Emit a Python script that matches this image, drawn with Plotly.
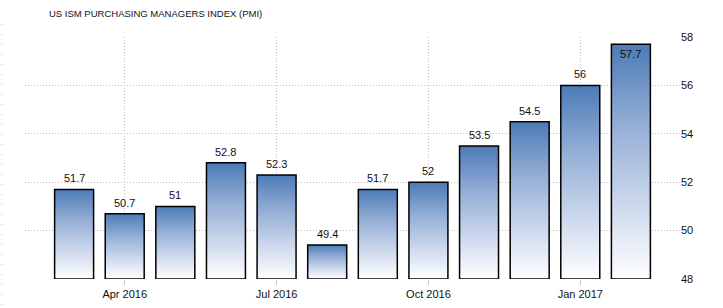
import plotly.graph_objects as go

months = ["Mar 2016", "Apr 2016", "May 2016", "Jun 2016", "Jul 2016", "Aug 2016",
          "Sep 2016", "Oct 2016", "Nov 2016", "Dec 2016", "Jan 2017", "Feb 2017"]
pmi = [51.7, 50.7, 51, 52.8, 52.3, 49.4, 51.7, 52, 53.5, 54.5, 56, 57.7]
tick_labels = ["Apr 2016", "Jul 2016", "Oct 2016", "Jan 2017"]
title = "US ISM PURCHASING MANAGERS INDEX (PMI)"

Y_MIN, Y_MAX = 48, 58
HALF = 0.385
FONT = "Liberation Sans"
GRID = "#c4bcc8"
grad = [[0, "#ffffff"], [0.3, "#cfdaee"], [0.65, "#95afd6"], [1, "#4c7bb6"]]

fig = go.Figure()
idx = {m: i for i, m in enumerate(months)}
for i, v in enumerate(pmi):
    xs = [i - HALF, i + HALF, i + HALF, i - HALF, i - HALF]
    ys = [Y_MIN, Y_MIN, v, v, Y_MIN]
    fig.add_trace(go.Scatter(
        x=xs, y=ys, mode="lines", fill="toself",
        fillgradient=dict(type="vertical", colorscale=grad),
        line=dict(color="#000000", width=1.5),
        hoverinfo="skip", showlegend=False, cliponaxis=False))
    inside = v > Y_MAX - 0.6
    fig.add_annotation(
        x=i, y=v, text=str(v), showarrow=False,
        yanchor="top" if inside else "bottom",
        yshift=-2 if inside else 3,
        font=dict(family=FONT, size=11, color="#111111"))

fig.add_annotation(
    x=(47 - 25) / 655, y=(279 - 13) / 242, xref="paper", yref="paper",
    text=title, showarrow=False, xanchor="left", yanchor="middle",
    font=dict(family=FONT, size=9.5, color="#111122"))

# faint dotted left border
fig.add_shape(type="line", xref="paper", yref="paper",
              x0=(2 - 25) / 655, x1=(2 - 25) / 655,
              y0=(279 - 305) / 242, y1=(279 - 24) / 242,
              line=dict(color=GRID, width=1, dash="1px,9px"))

fig.update_layout(
    width=723, height=308,
    margin=dict(l=25, r=43, t=37, b=29, autoexpand=False),
    paper_bgcolor="white", plot_bgcolor="white",
    font=dict(family=FONT, size=11, color="#111111"),
    xaxis=dict(
        range=[-0.97, 11.97], automargin=False,
        tickmode="array",
        tickvals=[idx[t] for t in tick_labels],
        ticktext=tick_labels,
        showgrid=True, gridcolor=GRID, griddash="1px,2px", gridwidth=1,
        ticks="outside", ticklen=5, tickcolor="#c8c8c8",
        showline=False, zeroline=False,
        tickfont=dict(family=FONT, size=11, color="#111111"),
    ),
    yaxis=dict(
        range=[Y_MIN, Y_MAX], side="right", automargin=False,
        tickvals=list(range(48, 59, 2)),
        showgrid=True, gridcolor=GRID, griddash="1px,2px", gridwidth=1,
        zeroline=False, showline=False, ticks="",
        tickfont=dict(family=FONT, size=11, color="#111111"),
    ),
)

fig.write_html("out.html")
